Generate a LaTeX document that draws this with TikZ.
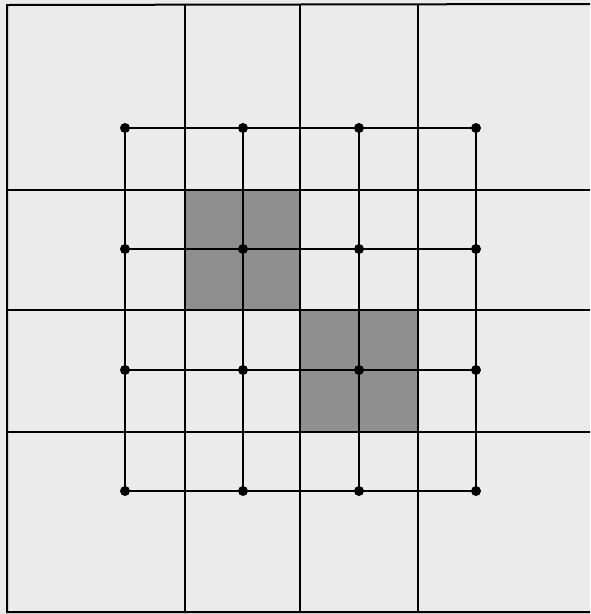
\documentclass[tikz,border=0pt]{standalone}
\begin{document}
\begin{tikzpicture}[x=1pt,y=-1pt,line width=2pt]
\fill[black!8] (0,0) rectangle (590,614);
\useasboundingbox (0,0) rectangle (590,614);
% shaded cells
\fill[black!44] (185,190) rectangle (300,310);
\fill[black!44] (300,310) rectangle (418,432);
% outer grid
\coordinate (tl) at (7,5);
\coordinate (tr) at (590,4);
\coordinate (bl) at (7,612);
\coordinate (br) at (590,612);
\draw (tr) -- (tl) -- (bl) -- (br);
\foreach \x in {185,300,418}
  \draw (\x,4) -- (\x,612);
\foreach \y in {190,310,432}
  \draw (7,\y) -- (590,\y);
% inner grid with dots
\foreach \x [count=\i] in {125,243,359,476}
  \foreach \y [count=\j] in {128,249,370,491}
    \coordinate (d-\i-\j) at (\x,\y);
\foreach \k in {1,...,4} {
  \draw (d-\k-1) -- (d-\k-4);
  \draw (d-1-\k) -- (d-4-\k);
}
\foreach \i in {1,...,4}
  \foreach \j in {1,...,4}
    \fill (d-\i-\j) circle (5pt);
\end{tikzpicture}
\end{document}
